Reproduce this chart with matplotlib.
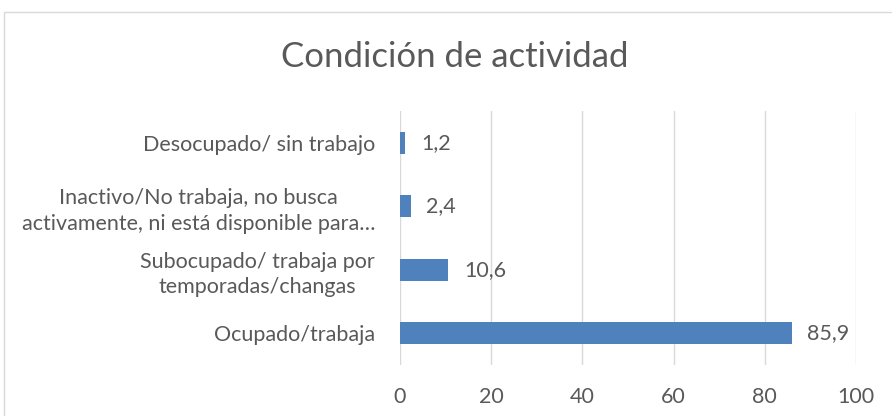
import matplotlib.pyplot as plt

categorias = [
    "Ocupado/trabaja",
    "Subocupado/ trabaja por\ntemporadas/changas",
    "Inactivo/No trabaja, no busca\nactivamente, ni está disponible para…",
    "Desocupado/ sin trabajo",
]
valores = [85.9, 10.6, 2.4, 1.2]
etiquetas = ["85,9", "10,6", "2,4", "1,2"]
ticks_x = [0, 20, 40, 60, 80, 100]

plt.rcParams['font.family'] = ['Lato', 'DejaVu Sans']
gris = '#595959'
fs = 15.5

fig = plt.figure(figsize=(8.92, 4.16), dpi=100)
ax = fig.add_axes([400 / 892, 1 - 365 / 416, 456 / 892, 254 / 416])

y = range(len(categorias))
ax.barh(y, valores, height=0.35, color='#4f81bd', zorder=3)
for i, v in enumerate(valores):
    ax.text(v + 3.4, i, etiquetas[i], va='center', ha='left', fontsize=fs, color=gris)

ax.set_xlim(0, 100)
ax.set_ylim(-0.5, len(categorias) - 0.5)
ax.set_xticks(ticks_x)
ax.set_yticks(list(y))
ax.set_yticklabels(categorias, multialignment='center', linespacing=1.35)
ax.tick_params(axis='both', length=0, labelsize=fs, labelcolor=gris)
ax.tick_params(axis='x', pad=16)
ax.tick_params(axis='y', pad=18)
ax.grid(axis='x', color='#d9d9d9', linewidth=1, zorder=0)
for s in ax.spines.values():
    s.set_visible(False)

fig.text(455 / 892, 1 - 57 / 416, "Condición de actividad", ha='center', va='center',
         fontsize=25, color=gris)

# marco del gráfico
borde = plt.Rectangle((4 / 892, -0.1), 1.1, 1 - 12 / 416 + 0.1, transform=fig.transFigure,
                      fill=False, edgecolor='#d9d9d9', linewidth=1)
fig.add_artist(borde)

fig.savefig('out.png', dpi=100)
